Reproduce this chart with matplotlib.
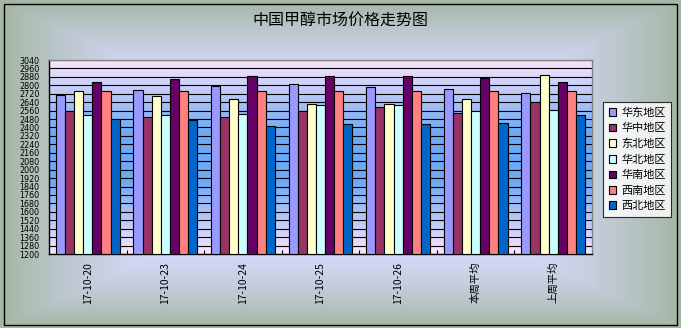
import numpy as np
import matplotlib
matplotlib.use("Agg")
import matplotlib.pyplot as plt
from matplotlib.patches import Patch, Rectangle
from matplotlib.colors import to_rgb

plt.rcParams['font.family'] = ['Noto Sans CJK SC', 'DejaVu Sans']

title = "中国甲醇市场价格走势图"
categories = ["17-10-20", "17-10-23", "17-10-24", "17-10-25", "17-10-26", "本周平均", "上周平均"]
series_names = ["华东地区", "华中地区", "东北地区", "华北地区", "华南地区", "西南地区", "西北地区"]
huadong = [2710, 2755, 2795, 2812, 2783, 2764, 2730]
huazhong = [2552, 2500, 2500, 2552, 2597, 2540, 2644]
dongbei = [2745, 2698, 2670, 2625, 2625, 2670, 2901]
huabei = [2517, 2517, 2525, 2612, 2612, 2555, 2565]
huanan = [2831, 2859, 2888, 2888, 2888, 2869, 2834]
xinan = [2745, 2745, 2745, 2745, 2745, 2745, 2745]
xibei = [2476, 2475, 2415, 2435, 2435, 2445, 2521]
series = [huadong, huazhong, dongbei, huabei, huanan, xinan, xibei]
colors = ["#9999FF", "#993366", "#FFFFCC", "#CCFFFF", "#660066", "#FF8080", "#0066CC"]
ymin, ymax, ystep = 1200, 3040, 80

W, H = 681, 328
fig = plt.figure(figsize=(W / 100, H / 100), dpi=100)

# figure background gradient (rectangular, from centre)
bg = fig.add_axes([0, 0, 1, 1], zorder=-10)
gx = np.linspace(-1, 1, W)
gy = np.linspace(-1, 1, H)
X, Y = np.meshgrid(gx, gy)
d = np.maximum(np.abs(X), np.abs(Y))
t = np.clip((d - 0.55) / 0.45, 0, 1) ** 1.3
c_center = np.array(to_rgb("#D4D9F8"))
c_edge = np.array(to_rgb("#A4B6A4"))
img = c_center[None, None, :] * (1 - t[..., None]) + c_edge[None, None, :] * t[..., None]
bg.imshow(img, extent=(0, 1, 0, 1), aspect='auto')
bg.set_xlim(0, 1); bg.set_ylim(0, 1)
bg.axis('off')
bg.add_patch(Rectangle((4 / W, 1 - 325 / H), 673 / W, 321 / H, fill=False,
                       edgecolor='black', linewidth=1.0, transform=bg.transAxes))

ax = fig.add_axes([49 / W, 1 - 254 / H, 543 / W, 194 / H])
# plot-area gradient (vertical, from centre)
py = np.linspace(-1, 1, 200)
pd_ = np.abs(py)
pt = np.clip((pd_ - 0.25) / 0.75, 0, 1)
c_in = np.array(to_rgb("#6EA8F4"))
c_out = np.array(to_rgb("#FBE4FA"))
col = c_in[None, :] * (1 - pt[:, None]) + c_out[None, :] * pt[:, None]
pimg = np.repeat(col[:, None, :], 10, axis=1)
ax.imshow(pimg, extent=(0, 1, 0, 1), transform=ax.transAxes, aspect='auto', zorder=0)

n = len(series)
w = 1 / 8.5
x = np.arange(len(categories))
for i, (vals, c, name) in enumerate(zip(series, colors, series_names)):
    ax.bar(x + (i - (n - 1) / 2) * w, np.array(vals) - ymin, bottom=ymin, width=w,
           color=c, edgecolor='black', linewidth=0.8, zorder=3, label=name)

ax.set_xlim(-0.5, len(categories) - 0.5)
ax.set_ylim(ymin, ymax)
ax.set_yticks(np.arange(ymin, ymax + 1, ystep))
ax.yaxis.grid(True, color='black', linewidth=0.8, zorder=1)
ax.set_axisbelow(True)
ax.tick_params(axis='y', length=0, pad=7)
for lab in ax.get_yticklabels():
    lab.set_family('DejaVu Sans')
    lab.set_fontsize(5.8)
ax.set_xticks(x)
ax.set_xticklabels(categories, rotation=90, va='top', fontsize=7.5)
ax.tick_params(axis='x', length=0, pad=5.5)
ax.set_xticks(np.arange(0.5, len(categories) - 0.5, 1), minor=True)
ax.tick_params(axis='x', which='minor', direction='in', length=3, width=0.8)
for s in ['left', 'bottom']:
    ax.spines[s].set_color('black'); ax.spines[s].set_linewidth(1.0)
for s in ['top', 'right']:
    ax.spines[s].set_color('#808080'); ax.spines[s].set_linewidth(1.0)
for lab in ax.get_xticklabels():
    lab.set_family(['Noto Sans CJK SC', 'DejaVu Sans'])

fig.text(340 / W, 1 - 21 / H, title, ha='center', va='center', fontsize=11.5)

handles = [Patch(facecolor=c, edgecolor='black', linewidth=0.8) for c in colors]
leg = fig.legend(handles, series_names, loc='upper left', bbox_to_anchor=(603 / W, 1 - 102 / H),
                 fontsize=8, frameon=True, fancybox=False, edgecolor='black',
                 handlelength=0.7, handleheight=0.7, handletextpad=0.45, labelspacing=0.48,
                 borderpad=0.5, borderaxespad=0)
leg.get_frame().set_linewidth(0.8)
leg.get_frame().set_facecolor('white')

fig.savefig("out.png", dpi=100)
